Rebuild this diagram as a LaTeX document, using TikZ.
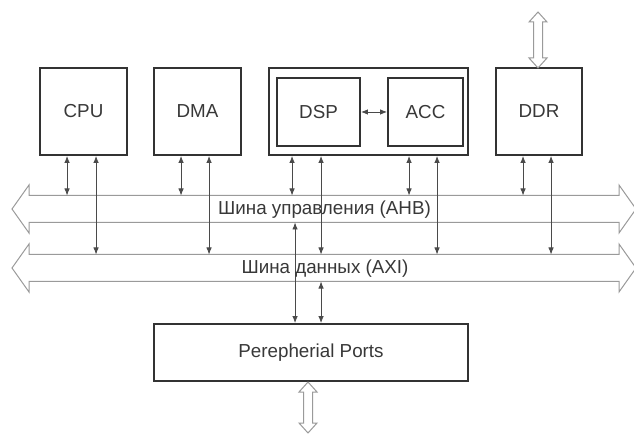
\documentclass[tikz,border=0pt]{standalone}
\usepackage{fontspec}
\setmainfont{Liberation Sans}
\usetikzlibrary{arrows.meta}
\definecolor{frame}{HTML}{333333}
\definecolor{wire}{HTML}{4A4A4A}
\definecolor{busline}{HTML}{9A9A9A}
\definecolor{ink}{HTML}{383838}
\begin{document}
\begin{tikzpicture}[x=1bp,y=-1bp,
  block/.style={draw=frame, line width=1.9bp, fill=white, inner sep=0pt,
    text=ink, font=\fontsize{18.8bp}{21bp}\selectfont},
  bio/.style={draw=wire, line width=0.8bp,
    {Latex[length=7bp,width=5.5bp]}-{Latex[length=7bp,width=5.5bp]}},
  hollow/.style={draw=busline, line width=1bp, fill=white},
  buslabel/.style={text=ink, inner sep=0pt, font=\fontsize{18.8bp}{21bp}\selectfont}]
\useasboundingbox (0,0) rectangle (634,434);
\begin{scope}
\clip (0,0) rectangle (634,434);

% system buses (wide hollow arrows)
\draw[hollow] (12,209) -- (29,185) -- (29,195.5) -- (619,195.5) -- (619,185)
  -- (636,209) -- (619,233) -- (619,222.5) -- (29,222.5) -- (29,233) -- cycle;
\draw[hollow] (12,268) -- (29,244) -- (29,254.5) -- (619,254.5) -- (619,244)
  -- (636,268) -- (619,292) -- (619,281.5) -- (29,281.5) -- (29,292) -- cycle;
\coordinate (ahbT) at (0,195.5);
\coordinate (ahbB) at (0,222.5);
\coordinate (axiT) at (0,254.5);
\coordinate (axiB) at (0,281.5);

% blocks
\node[block, minimum width=87bp, minimum height=87bp] (cpu) at (83.5,111.5) {CPU};
\node[block, minimum width=87bp, minimum height=87bp] (dma) at (197.5,111.5) {DMA};
\node[block, minimum width=199bp, minimum height=87bp] (soc) at (368.5,111.5) {};
\node[block, minimum width=83bp, minimum height=68bp] (dsp) at (318.5,112) {DSP};
\node[block, minimum width=75bp, minimum height=68bp] (acc) at (425.5,112) {ACC};
\node[block, minimum width=86bp, minimum height=87bp] (ddr) at (539,111.5) {DDR};
\node[block, minimum width=314bp, minimum height=57bp] (per) at (311,352.5) {Perepherial Ports};

% external ports
\draw[hollow] (538,12) -- (547,22) -- (542.5,22) -- (542.5,58) -- (547,58)
  -- (538,68) -- (529,58) -- (533.5,58) -- (533.5,22) -- (529,22) -- cycle;
\draw[hollow] (308,382) -- (317,392) -- (312.5,392) -- (312.5,423) -- (317,423)
  -- (308,433) -- (299,423) -- (303.5,423) -- (303.5,392) -- (299,392) -- cycle;

% tap points on the block edges
\path (cpu.south west) ++(28,0) coordinate (cpuA) ++(29,0) coordinate (cpuD);
\path (dma.south west) ++(28,0) coordinate (dmaA) ++(28,0) coordinate (dmaD);
\path (soc.south west) ++(24,0) coordinate (dspA) ++(29,0) coordinate (dspD);
\path (soc.south west) ++(141,0) coordinate (accA) ++(28,0) coordinate (accD);
\path (ddr.south west) ++(28,0) coordinate (ddrA) ++(28,0) coordinate (ddrD);
\path (per.north west) ++(142,0) coordinate (perA) ++(26,0) coordinate (perD);

% bus connections
\foreach \m in {cpu,dma,dsp,acc,ddr}{
  \draw[bio] (\m A) -- (\m A |- ahbT);
  \draw[bio] (\m D) -- (\m D |- axiT);
}
\draw[bio] (perA) -- (perA |- ahbB);
\draw[bio] (perD) -- (perD |- axiB);
\draw[bio] (dsp.east) -- (acc.west);

% bus names
\node[buslabel] (ahb) at (324.5,210) {Шина управления (AHB)};
\node[buslabel] (axi) at (325,269) {Шина данных (AXI)};
\end{scope}
\end{tikzpicture}
\end{document}
